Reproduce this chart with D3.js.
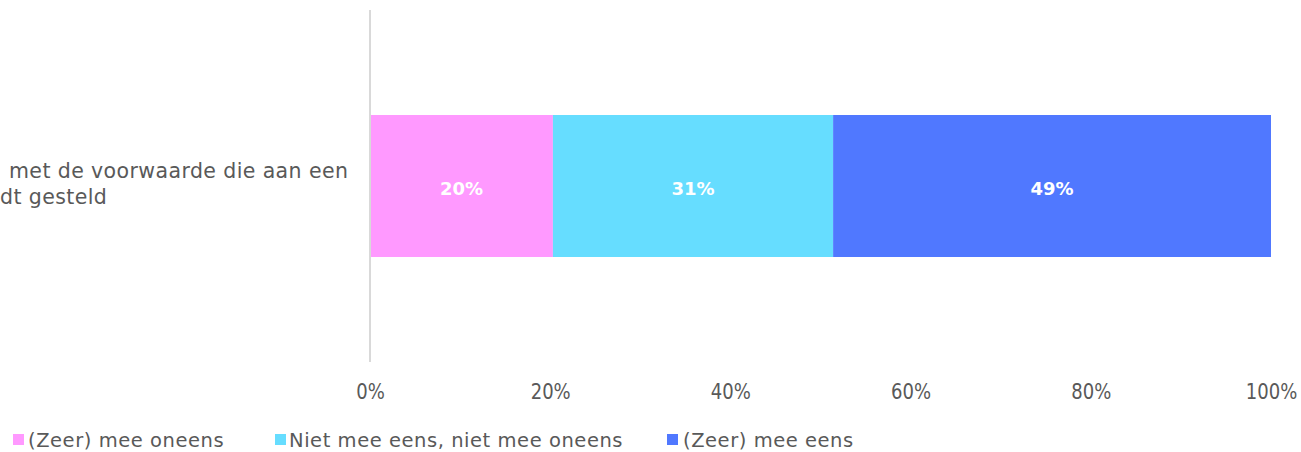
<!DOCTYPE html>
<html lang="nl">
<head>
    <meta charset="UTF-8">
    <title>Stacked bar</title>
    <script src="https://d3js.org/d3.v7.min.js"></script>
    <style>
        body { margin: 0; background: #fff; }
        svg { display: block; font-family: "DejaVu Sans", sans-serif; }
    </style>
    <script>
        // visible part of the (cut off) category label
        const categoryLines = ["met de voorwaarde die aan een", "dt gesteld"];
        const seriesNames = ["(Zeer) mee oneens", "Niet mee eens, niet mee oneens", "(Zeer) mee eens"];
        const seriesValues = [0.203, 0.311, 0.486];
        const seriesLabels = ["20%", "31%", "49%"];
        const seriesColors = ["#ff99ff", "#66ddff", "#5078ff"];
        const tickValues = [0, 0.2, 0.4, 0.6, 0.8, 1];

        document.addEventListener("DOMContentLoaded", () => makeGraph());

        function makeGraph() {
            const width = 1301, height = 452;
            const svg = d3.select("svg").attr("width", width).attr("height", height);

            const x = d3.scaleLinear().domain([0, 1]).range([370, 1271]);

            // stack
            let acc = 0;
            const segs = seriesValues.map((v, i) => {
                const s = {start: acc, end: acc + v, i: i};
                acc += v;
                return s;
            });

            svg.selectAll("rect.seg")
                .data(segs)
                .enter()
                .append("rect")
                .attr("class", "seg")
                .attr("x", d => x(d.start))
                .attr("y", 115)
                .attr("width", d => x(d.end) - x(d.start))
                .attr("height", 142)
                .attr("fill", d => seriesColors[d.i]);

            svg.selectAll("text.val")
                .data(segs)
                .enter()
                .append("text")
                .attr("class", "val")
                .attr("x", d => (x(d.start) + x(d.end)) / 2)
                .attr("y", 195)
                .attr("text-anchor", "middle")
                .attr("fill", "#fff")
                .attr("font-weight", "bold")
                .attr("font-size", "18px")
                .text(d => seriesLabels[d.i]);

            // vertical axis line
            svg.append("line")
                .attr("x1", x(0)).attr("x2", x(0))
                .attr("y1", 10).attr("y2", 362)
                .attr("stroke", "#d9d9d9").attr("stroke-width", 2);

            // x axis tick labels (narrow, tall digits)
            const xAxis = d3.axisBottom(x).tickValues(tickValues).tickFormat(d3.format(".0%")).tickSize(0).tickPadding(0);
            const gx = svg.append("g").attr("transform", "translate(0,383)").call(xAxis);
            gx.select(".domain").remove();
            gx.selectAll("text")
                .attr("dy", "0.71em")
                .attr("transform", "scale(0.82,1)")
                .attr("font-family", "'DejaVu Sans', sans-serif")
                .attr("font-size", "22px")
                .attr("fill", "#595959");

            // category label (cut off at the left edge)
            const cat = svg.append("text")
                .attr("font-size", "20.5px")
                .attr("letter-spacing", "0.4px")
                .attr("fill", "#595959");
            cat.append("tspan").attr("x", 9).attr("y", 178).text(categoryLines[0]);
            cat.append("tspan").attr("x", 0).attr("y", 204).text(categoryLines[1]);

            // legend
            const legendX = [13, 275, 667];
            const textX = [28, 289, 683];
            const lg = svg.selectAll("g.legend")
                .data(seriesNames)
                .enter()
                .append("g")
                .attr("class", "legend");
            lg.append("rect")
                .attr("x", (d, i) => legendX[i]).attr("y", 434)
                .attr("width", 11).attr("height", 11)
                .attr("fill", (d, i) => seriesColors[i]);
            lg.append("text")
                .attr("x", (d, i) => textX[i]).attr("y", 447)
                .attr("font-size", "19.5px")
                .attr("letter-spacing", "0.55px")
                .attr("fill", "#595959")
                .text(d => d);
        }
    </script>
</head>
<body>
    <svg></svg>
</body>
</html>
